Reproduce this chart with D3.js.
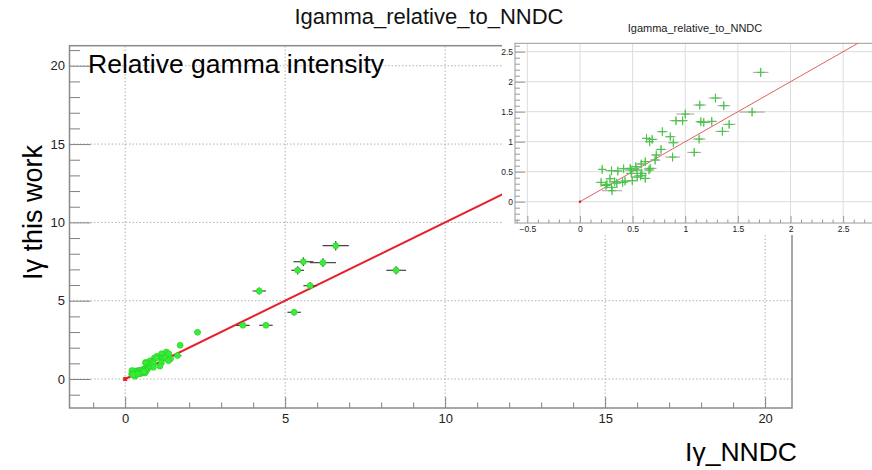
<!DOCTYPE html>
<html>
<head>
<meta charset="utf-8">
<script src="https://cdn.jsdelivr.net/npm/d3@7"></script>
<style>
  body { margin: 0; background: #fff; }
  svg { display: block; }
  text { font-family: "Liberation Sans", Arial, Helvetica, sans-serif; }
</style>
</head>
<body>
<svg id="chart" width="872" height="470"></svg>
<script>
// Gamma intensities: NNDC reference (x) vs. this work (y), with uncertainties
const nndc = [
  1.717, 1.287, 1.138, 1.366, 1.635, 1.000, 0.912, 0.975, 1.148, 1.176,
  1.252, 1.417, 1.353, 0.783, 0.858, 0.632, 0.686, 0.662, 1.132, 0.887,
  0.770, 0.725, 1.085, 0.880, 0.714, 0.620, 0.582, 0.667, 0.656, 0.541,
  0.530, 0.484, 0.488, 0.478, 0.415, 0.360, 0.300, 0.211, 0.576, 0.620,
  0.497, 0.544, 0.201, 0.256, 0.285, 0.330, 0.405, 0.428, 0.300, 0.305,
  0.350, 0.247, 0.588,
  2.26, 3.68, 4.40, 4.19, 5.28, 5.78, 5.39, 8.47, 5.57, 6.18, 6.58
];
const nndcErr = [
  0.073, 0.063, 0.060, 0.060, 0.120, 0.085, 0.060, 0.050, 0.050, 0.060,
  0.050, 0.060, 0.065, 0.050, 0.050, 0.040, 0.050, 0.040, 0.060, 0.050,
  0.050, 0.050, 0.065, 0.070, 0.050, 0.050, 0.050, 0.060, 0.050, 0.050,
  0.050, 0.060, 0.050, 0.050, 0.050, 0.050, 0.060, 0.040, 0.060, 0.050,
  0.050, 0.040, 0.050, 0.050, 0.040, 0.050, 0.050, 0.050, 0.060, 0.095,
  0.040, 0.050, 0.050,
  0.10, 0.21, 0.21, 0.21, 0.21, 0.21, 0.20, 0.31, 0.31, 0.41, 0.41
];
const thisWork = [
  2.156, 1.728, 1.611, 1.600, 1.494, 1.461, 1.350, 1.350, 1.333, 1.322,
  1.339, 1.289, 1.172, 1.167, 1.083, 1.056, 1.039, 1.000, 1.044, 0.983,
  0.872, 0.778, 0.822, 0.744, 0.694, 0.667, 0.628, 0.556, 0.528, 0.528,
  0.583, 0.528, 0.472, 0.556, 0.550, 0.511, 0.517, 0.539, 0.433, 0.389,
  0.350, 0.411, 0.322, 0.289, 0.383, 0.333, 0.322, 0.344, 0.239, 0.183,
  0.311, 0.272, 0.472,
  2.98, 3.43, 3.43, 5.62, 4.26, 5.96, 6.94, 6.94, 7.49, 7.43, 8.51
];
const thisWorkErr = [
  0.07, 0.06, 0.06, 0.06, 0.06, 0.06, 0.06, 0.06, 0.06, 0.06,
  0.06, 0.06, 0.06, 0.06, 0.06, 0.06, 0.06, 0.06, 0.06, 0.06,
  0.06, 0.06, 0.06, 0.06, 0.06, 0.06, 0.06, 0.06, 0.06, 0.06,
  0.06, 0.06, 0.06, 0.06, 0.06, 0.06, 0.06, 0.06, 0.06, 0.06,
  0.06, 0.06, 0.06, 0.06, 0.06, 0.06, 0.06, 0.06, 0.06, 0.06,
  0.06, 0.06, 0.06,
  0.12, 0.18, 0.18, 0.22, 0.2, 0.24, 0.26, 0.26, 0.28, 0.28, 0.3
];

// Axis tick labels
const mainTicks = [0, 5, 10, 15, 20];
const insetXTicks = [-0.5, 0, 0.5, 1, 1.5, 2, 2.5];
const insetYTicks = [0, 0.5, 1, 1.5, 2, 2.5];

const points = nndc.map((x, i) => ({ x, y: thisWork[i], ex: nndcErr[i], ey: thisWorkErr[i] }));

const svg = d3.select("#chart");

// ---------- main pad ----------
const X = d3.scaleLinear().domain([-1.74, 20.84]).range([69.5, 792]);
const Y = d3.scaleLinear().domain([-1.85, 21.28]).range([408, 45.7]);
const main = svg.append("g");

main.append("clipPath").attr("id", "mainClip")
  .append("rect").attr("x", X.range()[0]).attr("y", Y.range()[1])
  .attr("width", X.range()[1] - X.range()[0]).attr("height", Y.range()[0] - Y.range()[1]);

// dotted grid at major ticks
main.append("g").selectAll("line").data(mainTicks).join("line")
  .attr("x1", d => X(d)).attr("x2", d => X(d))
  .attr("y1", Y.range()[0]).attr("y2", Y.range()[1])
  .attr("stroke", "#b0b0b0").attr("stroke-dasharray", "1.5,2").attr("stroke-width", 1);
main.append("g").selectAll("line").data(mainTicks).join("line")
  .attr("y1", d => Y(d)).attr("y2", d => Y(d))
  .attr("x1", X.range()[0]).attr("x2", X.range()[1])
  .attr("stroke", "#b0b0b0").attr("stroke-dasharray", "1.5,2").attr("stroke-width", 1);

// axes: ticks pointing into the frame
function styleAxis(g, color, size) {
  g.select(".domain").remove();
  g.selectAll("line").attr("stroke", color);
  g.selectAll("text").attr("fill", "#222").style("font-size", size + "px");
}
const minorX = d3.range(-1, 21, 1).filter(v => !mainTicks.includes(v));
const minorY = d3.range(-1, 22, 1).filter(v => !mainTicks.includes(v));

main.append("g").attr("transform", `translate(0,${Y.range()[0]})`)
  .call(d3.axisBottom(X).tickValues(minorX).tickSize(-5.5).tickFormat(""))
  .call(g => styleAxis(g, "#808080", 13));
main.append("g").attr("transform", `translate(0,${Y.range()[0]})`)
  .call(d3.axisBottom(X).tickValues(mainTicks).tickSize(-11).tickPadding(6).tickFormat(d3.format("d")))
  .call(g => styleAxis(g, "#808080", 13));
main.append("g").attr("transform", `translate(${X.range()[0]},0)`)
  .call(d3.axisLeft(Y).tickValues(minorY).tickSize(-10.5).tickFormat(""))
  .call(g => styleAxis(g, "#808080", 13));
main.append("g").attr("transform", `translate(${X.range()[0]},0)`)
  .call(d3.axisLeft(Y).tickValues(mainTicks).tickSize(-21).tickPadding(4.5).tickFormat(d3.format("d")))
  .call(g => styleAxis(g, "#808080", 13));

// frame
main.append("rect")
  .attr("x", X.range()[0]).attr("y", Y.range()[1])
  .attr("width", X.range()[1] - X.range()[0]).attr("height", Y.range()[0] - Y.range()[1])
  .attr("fill", "none").attr("stroke", "#8a8a8a").attr("stroke-width", 1.5);

const mainPlot = main.append("g").attr("clip-path", "url(#mainClip)");

// y = x reference line
mainPlot.append("line")
  .attr("x1", X(0)).attr("y1", Y(0))
  .attr("x2", X(X.domain()[1])).attr("y2", Y(X.domain()[1]))
  .attr("stroke", "#e8202a").attr("stroke-width", 2);

// error bars
const mErr = mainPlot.append("g").attr("stroke", "#444").attr("stroke-width", 1.2);
mErr.selectAll("line.h").data(points).join("line").attr("class", "h")
  .attr("x1", d => X(d.x - d.ex)).attr("x2", d => X(d.x + d.ex))
  .attr("y1", d => Y(d.y)).attr("y2", d => Y(d.y));
mErr.selectAll("line.v").data(points).join("line").attr("class", "v")
  .attr("x1", d => X(d.x)).attr("x2", d => X(d.x))
  .attr("y1", d => Y(d.y - d.ey)).attr("y2", d => Y(d.y + d.ey));

// markers
mainPlot.append("g").selectAll("circle").data(points).join("circle")
  .attr("cx", d => X(d.x)).attr("cy", d => Y(d.y)).attr("r", 3)
  .attr("fill", "#36ee36").attr("stroke", "#28cc28").attr("stroke-width", 0.6);

// origin marker
mainPlot.append("rect").attr("x", X(0) - 2).attr("y", Y(0) - 2)
  .attr("width", 4).attr("height", 4).attr("fill", "#e8202a");

// texts
svg.append("text").attr("x", 429).attr("y", 23.5).attr("text-anchor", "middle")
  .style("font-size", "22px").attr("fill", "#111").text("Igamma_relative_to_NNDC");
svg.append("text").attr("x", 88).attr("y", 73)
  .style("font-size", "26.5px").attr("fill", "#000").text("Relative gamma intensity");
svg.append("text").attr("transform", "translate(42,212.5) rotate(-90)")
  .attr("text-anchor", "middle").style("font-size", "27px").attr("fill", "#000").text("Iγ this work");
svg.append("text").attr("x", 797).attr("y", 461).attr("text-anchor", "end")
  .style("font-size", "26.5px").attr("fill", "#000").text("Iγ_NNDC");

// ---------- inset pad ----------
const inset = svg.append("g");
inset.append("rect").attr("x", 502).attr("y", 24).attr("width", 370).attr("height", 211).attr("fill", "#fff");

const IX = d3.scaleLinear().domain([-0.617, 2.85]).range([515, 880]);
const IY = d3.scaleLinear().domain([-0.355, 2.64]).range([223, 43.3]);

inset.append("clipPath").attr("id", "insetClip")
  .append("rect").attr("x", IX.range()[0]).attr("y", IY.range()[1])
  .attr("width", IX.range()[1] - IX.range()[0]).attr("height", IY.range()[0] - IY.range()[1]);

inset.append("text").attr("x", 695).attr("y", 32).attr("text-anchor", "middle")
  .style("font-size", "11px").attr("fill", "#222").text("Igamma_relative_to_NNDC");

// grid
inset.append("g").selectAll("line").data(insetXTicks).join("line")
  .attr("x1", d => IX(d)).attr("x2", d => IX(d))
  .attr("y1", IY.range()[0]).attr("y2", IY.range()[1])
  .attr("stroke", "#dcdcdc").attr("stroke-width", 1);
inset.append("g").selectAll("line").data(insetYTicks).join("line")
  .attr("y1", d => IY(d)).attr("y2", d => IY(d))
  .attr("x1", IX.range()[0]).attr("x2", IX.range()[1])
  .attr("stroke", "#dcdcdc").attr("stroke-width", 1);

const iMinorX = d3.range(-6, 29, 1).map(v => v / 10).filter(v => !insetXTicks.includes(v));
const iMinorY = d3.range(-3, 27, 1).map(v => v / 10).filter(v => !insetYTicks.includes(v));

inset.append("g").attr("transform", `translate(0,${IY.range()[0]})`)
  .call(d3.axisBottom(IX).tickValues(iMinorX).tickSize(-3.5).tickFormat(""))
  .call(g => styleAxis(g, "#999", 8.5));
inset.append("g").attr("transform", `translate(0,${IY.range()[0]})`)
  .call(d3.axisBottom(IX).tickValues(insetXTicks).tickSize(-7).tickPadding(2.5).tickFormat(d3.format("")))
  .call(g => styleAxis(g, "#999", 8.5));
inset.append("g").attr("transform", `translate(${IX.range()[0]},0)`)
  .call(d3.axisLeft(IY).tickValues(iMinorY).tickSize(-5).tickFormat(""))
  .call(g => styleAxis(g, "#999", 8.5));
inset.append("g").attr("transform", `translate(${IX.range()[0]},0)`)
  .call(d3.axisLeft(IY).tickValues(insetYTicks).tickSize(-10).tickPadding(2).tickFormat(d3.format("")))
  .call(g => styleAxis(g, "#999", 8.5));

inset.append("rect")
  .attr("x", IX.range()[0]).attr("y", IY.range()[1])
  .attr("width", IX.range()[1] - IX.range()[0]).attr("height", IY.range()[0] - IY.range()[1])
  .attr("fill", "none").attr("stroke", "#9a9a9a").attr("stroke-width", 1);

const insetPlot = inset.append("g").attr("clip-path", "url(#insetClip)");

insetPlot.append("line")
  .attr("x1", IX(0)).attr("y1", IY(0))
  .attr("x2", IX(IX.domain()[1])).attr("y2", IY(IX.domain()[1]))
  .attr("stroke", "#e06060").attr("stroke-width", 1);

const iErr = insetPlot.append("g").attr("stroke", "#a0a0a0").attr("stroke-width", 1);
iErr.selectAll("line.h").data(points).join("line").attr("class", "h")
  .attr("x1", d => IX(d.x - d.ex)).attr("x2", d => IX(d.x + d.ex))
  .attr("y1", d => IY(d.y)).attr("y2", d => IY(d.y));
iErr.selectAll("line.v").data(points).join("line").attr("class", "v")
  .attr("x1", d => IX(d.x)).attr("x2", d => IX(d.x))
  .attr("y1", d => IY(d.y - d.ey)).attr("y2", d => IY(d.y + d.ey));

// "+" markers
const plus = insetPlot.append("g").attr("stroke", "#3acc3a").attr("stroke-width", 1);
plus.selectAll("line.ph").data(points).join("line").attr("class", "ph")
  .attr("x1", d => IX(d.x) - 4).attr("x2", d => IX(d.x) + 4)
  .attr("y1", d => IY(d.y)).attr("y2", d => IY(d.y));
plus.selectAll("line.pv").data(points).join("line").attr("class", "pv")
  .attr("x1", d => IX(d.x)).attr("x2", d => IX(d.x))
  .attr("y1", d => IY(d.y) - 4.5).attr("y2", d => IY(d.y) + 4.5);

insetPlot.append("circle").attr("cx", IX(0)).attr("cy", IY(0)).attr("r", 1.3).attr("fill", "#d02020");
</script>
</body>
</html>
